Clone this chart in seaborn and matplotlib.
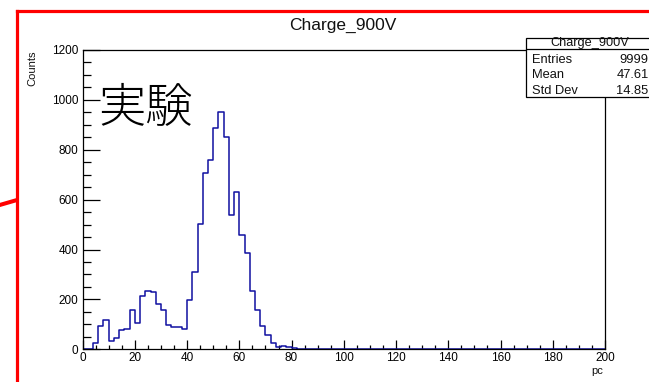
import numpy as np
import pandas as pd
import matplotlib
matplotlib.use("Agg")
import matplotlib.pyplot as plt
import seaborn as sns
from matplotlib.lines import Line2D
from matplotlib.patches import Rectangle
from matplotlib.ticker import MultipleLocator

# ---- data ----
bin_width = 2
x_range = (0, 200)
counts = [2, 3, 27, 93, 116, 35, 44, 76, 80, 157,
          107, 213, 233, 229, 180, 156, 97, 89, 89, 82,
          197, 308, 502, 708, 757, 889, 950, 853, 540, 630,
          460, 388, 235, 157, 95, 57, 26, 11, 15, 8,
          4, 3, 3, 3, 0, 0, 0, 2, 0, 0,
          0, 2] + [0] * 48
title = "Charge_900V"
stats_labels = ["Entries", "Mean", "Std Dev"]
stats_values = ["9999", "47.61", "14.85"]
x_ticks = [0, 20, 40, 60, 80, 100, 120, 140, 160, 180, 200]
y_ticks = [0, 200, 400, 600, 800, 1000, 1200]

centers = np.arange(x_range[0], x_range[1], bin_width) + bin_width / 2
df = pd.DataFrame({"pc": centers, "count": counts})

sns.set_style("ticks")
plt.rcParams['font.family'] = ['Liberation Sans', 'Noto Sans CJK JP', 'DejaVu Sans']

W, H = 649, 382
fig = plt.figure(figsize=(W / 100, H / 100), dpi=100)
fig.patch.set_facecolor("white")

def fx(px):
    return px / W

def fy(py):
    return 1 - py / H

left, right, top, bottom = 82.6, 605.0, 50.0, 349.3
ax = fig.add_axes([fx(left), fy(bottom), fx(right) - fx(left), fy(top) - fy(bottom)])
ax.set_facecolor("white")

sns.histplot(data=df, x="pc", weights="count", binwidth=bin_width, binrange=x_range,
             element="step", fill=False, color="#1010a0", linewidth=1.1, ax=ax)

ax.set_xlim(0, 200)
ax.set_ylim(0, 1200)
ax.set_xticks(x_ticks)
ax.set_yticks(y_ticks)
ax.xaxis.set_minor_locator(MultipleLocator(5))
ax.yaxis.set_minor_locator(MultipleLocator(50))
ax.set_xlabel("")
ax.set_ylabel("")
for s in ax.spines.values():
    s.set_visible(True)
    s.set_color("black")
    s.set_linewidth(0.9)
ax.tick_params(axis="y", which="major", direction="in", length=12, width=0.9,
               labelsize=8.5, pad=3, colors="black")
ax.tick_params(axis="y", which="minor", direction="in", length=6, width=0.9, colors="black")
ax.tick_params(axis="x", which="major", direction="in", length=6.7, width=0.9,
               labelsize=8.5, pad=2, colors="black")
ax.tick_params(axis="x", which="minor", direction="in", length=3.1, width=0.9, colors="black")

# labels
fig.text(fx(342.5), fy(30), title, ha="center", va="baseline", fontsize=12.5, color="#111111")
fig.text(fx(32.5), fy(50), "Counts", rotation=90, ha="center", va="top", fontsize=8, color="#111111")
fig.text(fx(603), fy(370.5), "pc", ha="right", va="center", fontsize=8, color="#111111")
fig.text(fx(98), fy(109), "実験", ha="left", va="center", fontsize=34, fontweight="light",
         family=['Noto Sans CJK JP', 'DejaVu Sans'], color="black")

# stats box
bx0, by0, bx1, by1, bdiv = 525.7, 37.7, 654.0, 96.7, 49.3
fig.add_artist(Rectangle((fx(bx0), fy(by1)), fx(bx1) - fx(bx0), fy(by0) - fy(by1),
                         transform=fig.transFigure, facecolor="white", edgecolor="black",
                         linewidth=0.9, zorder=5, clip_on=False))
fig.add_artist(Line2D([fx(bx0), fx(bx1)], [fy(bdiv), fy(bdiv)], transform=fig.transFigure,
                      color="black", linewidth=0.9, zorder=6))
fig.text(fx(590), fy(45.8), title, ha="center", va="baseline", fontsize=9.2, zorder=7, color="#111111")
for i, (lab, val) in enumerate(zip(stats_labels, stats_values)):
    yb = [63.3, 78.3, 94.0][i]
    fig.text(fx(531.7), fy(yb), lab, ha="left", va="baseline", fontsize=9.3, zorder=7, color="#111111")
    fig.text(fx(648.5), fy(yb), val, ha="right", va="baseline", fontsize=9.3, zorder=7, color="#111111")

# red frame annotations
red_lw = 2.3
fig.add_artist(Line2D([fx(17), fx(17)], [fy(10.5), fy(385)], transform=fig.transFigure,
                      color="#ff0000", linewidth=red_lw, zorder=8, solid_capstyle="projecting"))
fig.add_artist(Line2D([fx(17), fx(652)], [fy(10.5), fy(10.5)], transform=fig.transFigure,
                      color="#ff0000", linewidth=red_lw, zorder=8, solid_capstyle="projecting"))
fig.add_artist(Line2D([fx(-2), fx(17)], [fy(205.5), fy(200)], transform=fig.transFigure,
                      color="#ff0000", linewidth=red_lw + 0.6, zorder=8))

fig.savefig("out.png", dpi=100, facecolor="white")
